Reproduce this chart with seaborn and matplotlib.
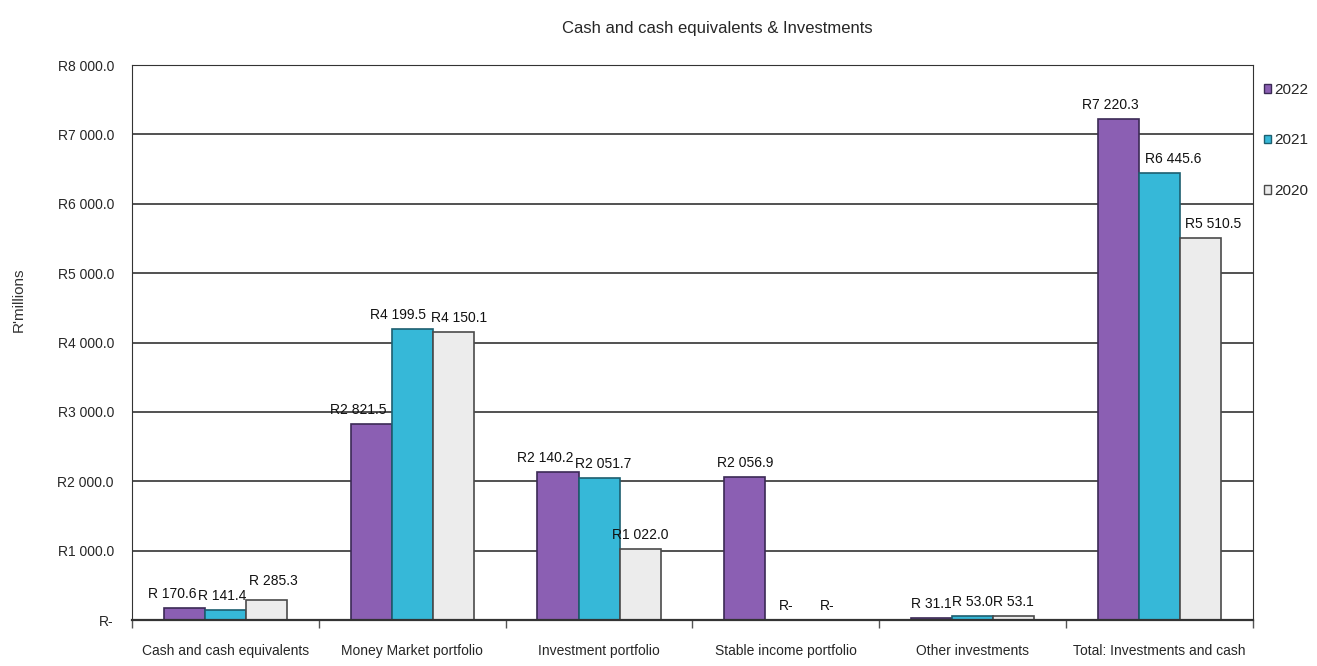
import matplotlib
matplotlib.use("Agg")
import matplotlib.pyplot as plt
from matplotlib.patches import Patch
import seaborn as sns
import pandas as pd

categories = [
    "Cash and cash equivalents",
    "Money Market portfolio",
    "Investment portfolio",
    "Stable income portfolio",
    "Other investments",
    "Total: Investments and cash",
]
years = ["2022", "2021", "2020"]
values_2022 = [170.6, 2821.5, 2140.2, 2056.9, 31.1, 7220.3]
values_2021 = [141.4, 4199.5, 2051.7, 0.0, 53.0, 6445.6]
values_2020 = [285.3, 4150.1, 1022.0, 0.0, 53.1, 5510.5]
y_ticks = [0, 1000, 2000, 3000, 4000, 5000, 6000, 7000, 8000]

# horizontal nudges (points) that keep neighbouring value labels apart
label_dx = {
    "2022": [-9, -9, -9, 0, 0, -6],
    "2021": [-2, -10, 3, 0, 0, 10],
    "2020": [5, 4, 0, 0, 0, 9],
}

colors = {"2022": "#8b5fb3", "2021": "#36b8d8", "2020": "#ececec"}
edges = {"2022": "#3b2a55", "2021": "#1d5f70", "2020": "#4a4a4a"}

rows = []
for yr, vals in zip(years, [values_2022, values_2021, values_2020]):
    for c, v in zip(categories, vals):
        rows.append({"Category": c, "Year": yr, "Value": v})
df = pd.DataFrame(rows)

sns.set_style("white")
plt.rcParams["font.family"] = ["Liberation Sans", "DejaVu Sans"]

fig = plt.figure(figsize=(13.17, 6.66), dpi=100)
ax = fig.add_axes([0.1002, 0.069, 0.8512, 0.8334])

sns.barplot(data=df, x="Category", y="Value", hue="Year", hue_order=years,
            order=categories, palette=colors, saturation=1, width=0.66, gap=0.0,
            edgecolor="#333333", linewidth=1.2, legend=False, ax=ax)

# outline each bar in a darker shade of its own colour
for cont, yr in zip(ax.containers, years):
    for bar in cont:
        bar.set_edgecolor(edges[yr])


def fmt(v):
    if v == 0:
        return "R-"
    if v >= 1000:
        th = int(v // 1000)
        rest = v - th * 1000
        return f"R{th} {rest:05.1f}"
    return f"R {v:.1f}"


for cont, yr in zip(ax.containers, years):
    texts = ax.bar_label(cont, labels=[fmt(b.get_height()) for b in cont],
                         padding=5, fontsize=10, color="#111111")
    for t, dx in zip(texts, label_dx[yr]):
        x0, y0 = t.xyann
        t.xyann = (x0 + dx, y0 + (4 if (yr == "2020" and t.get_text() == "R 285.3") else 0))

ax.set_ylim(0, 8000)
ax.set_xlim(-0.5, len(categories) - 0.5)
ax.set_yticks(y_ticks)
ax.set_yticklabels(["R-"] + [f"R{int(t // 1000)} 000.0" for t in y_ticks[1:]],
                   fontsize=10)
ax.yaxis.grid(True, color="#222222", linewidth=1.1)
ax.set_axisbelow(True)
ax.tick_params(axis="y", direction="out", length=6, width=1, color="#333333", pad=7)
ax.set_xticks(range(len(categories)))
ax.set_xticks([i + 0.5 for i in range(-1, len(categories))], minor=True)
ax.tick_params(axis="x", which="major", length=0, pad=17, labelsize=10)
ax.tick_params(axis="x", which="minor", direction="out", length=6, width=1,
               color="#555555", bottom=True)
for s in ["left", "right", "top", "bottom"]:
    ax.spines[s].set_visible(True)
    ax.spines[s].set_color("#333333")
ax.spines["bottom"].set_linewidth(1.6)
ax.set_xlabel("")
ax.set_ylabel("R'millions", fontsize=11, color="#333333")
ax.yaxis.set_label_coords(-0.095, 0.577)

fig.suptitle("Cash and cash equivalents & Investments", x=0.545, y=0.968,
             fontsize=12)

handles = [Patch(facecolor=colors[y], edgecolor=edges[y], label=y) for y in years]
fig.legend(handles=handles, loc="upper left", bbox_to_anchor=(0.955, 0.885),
           frameon=False, fontsize=11, handlelength=0.5, handleheight=0.5,
           handletextpad=0.2, labelspacing=2.4, borderaxespad=0)

fig.savefig("out.png", dpi=100, facecolor="white")
